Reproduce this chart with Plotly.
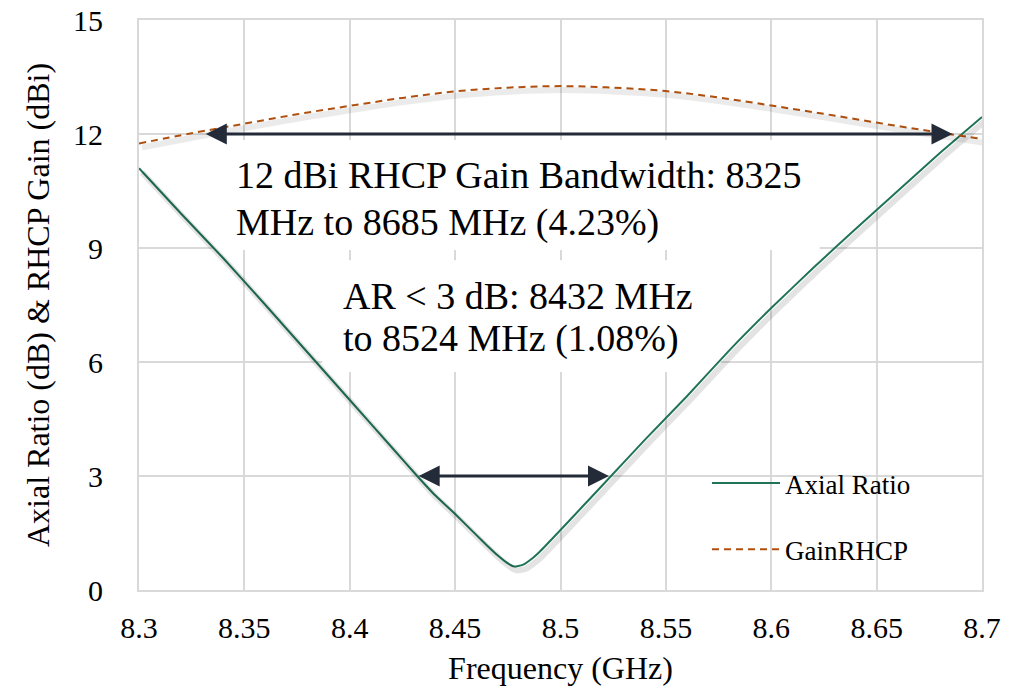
import plotly.graph_objects as go

# ---------------- data ----------------
freq_ar = [8.30, 8.32, 8.34, 8.36, 8.38, 8.40, 8.42, 8.432, 8.44, 8.45, 8.46, 8.465, 8.47,
           8.475, 8.478, 8.482, 8.487, 8.49, 8.50, 8.51, 8.524, 8.54, 8.56, 8.58, 8.60,
           8.62, 8.64, 8.66, 8.68, 8.70]
axial_ratio = [11.1, 9.9, 8.73, 7.5, 6.25, 5.0, 3.75, 3.0, 2.52, 2.0, 1.45, 1.18, 0.92,
               0.7, 0.62, 0.66, 0.85, 1.0, 1.58, 2.17, 3.0, 3.95, 5.1, 6.3, 7.42,
               8.48, 9.5, 10.5, 11.5, 12.45]

freq_gain = [8.300, 8.325, 8.350, 8.375, 8.400, 8.425, 8.450, 8.475, 8.500, 8.525,
             8.550, 8.575, 8.600, 8.625, 8.650, 8.675, 8.700]
gain_rhcp = [11.75, 12.02, 12.27, 12.52, 12.74, 12.95, 13.12, 13.22, 13.26, 13.22,
             13.13, 12.96, 12.75, 12.53, 12.30, 12.08, 11.87]

x_ticks = [8.3, 8.35, 8.4, 8.45, 8.5, 8.55, 8.6, 8.65, 8.7]
x_tick_labels = ["8.3", "8.35", "8.4", "8.45", "8.5", "8.55", "8.6", "8.65", "8.7"]
y_ticks = [0, 3, 6, 9, 12, 15]
y_tick_labels = ["0", "3", "6", "9", "12", "15"]

gain_band = [8.331, 8.686]   # 12 dBi gain bandwidth arrow ends (GHz)
gain_level = 12
ar_band = [8.432, 8.523]     # AR < 3 dB arrow ends (GHz)
ar_level = 3

gain_text_lines = ["12 dBi RHCP Gain Bandwidth: 8325", "MHz to 8685 MHz (4.23%)"]
ar_text_lines = ["AR < 3 dB: 8432 MHz", "to 8524 MHz (1.08%)"]

# ---------------- style ----------------
FONT = "Liberation Serif"
AR_COLOR = "#1F7357"
GAIN_COLOR = "#B0500F"
ARROW_COLOR = "#232B38"
GRID = "#D9D9D9"
XR = [8.3, 8.7]
YR = [0, 15]
W, H = 1012, 691
ML, MR, MT, MB = 139, 30, 20, 101
pw = W - ML - MR
ph = H - MT - MB
sx = (XR[1] - XR[0]) / pw
sy = (YR[1] - YR[0]) / ph
shadow_dx, shadow_dy = 3, 4

fig = go.Figure()

# shadows (same data drawn on offset hidden axes)
fig.add_trace(go.Scatter(x=freq_ar, y=axial_ratio, mode="lines", xaxis="x2", yaxis="y2",
                         line=dict(color="rgba(0,0,0,0.11)", width=6, shape="spline", smoothing=0.4),
                         showlegend=False, hoverinfo="skip"))
fig.add_trace(go.Scatter(x=freq_gain, y=gain_rhcp, mode="lines", xaxis="x2", yaxis="y2",
                         line=dict(color="rgba(0,0,0,0.08)", width=6, shape="spline"),
                         showlegend=False, hoverinfo="skip"))

fig.add_trace(go.Scatter(x=freq_ar, y=axial_ratio, mode="lines", name="Axial Ratio",
                         legendgroup="a",
                         line=dict(color=AR_COLOR, width=2, shape="spline", smoothing=0.4)))
fig.add_trace(go.Scatter(x=freq_gain, y=gain_rhcp, mode="lines", name="GainRHCP",
                         legendgroup="b",
                         line=dict(color=GAIN_COLOR, width=2, dash="7px,5px", shape="spline")))

# white boxes behind texts (hide gridlines only)
fig.add_shape(type="rect", xref="x", yref="y", x0=8.335, x1=8.623, y0=8.95, y1=11.84,
              fillcolor="white", line=dict(width=0), layer="between")
fig.add_shape(type="rect", xref="x", yref="y", x0=8.387, x1=8.576, y0=5.74, y1=8.68,
              fillcolor="white", line=dict(width=0), layer="between")
# legend backdrop
fig.add_shape(type="rect", xref="paper", yref="paper",
              x0=(690 - ML) / pw, x1=(930 - ML) / pw,
              y0=(H - MB - 579) / ph, y1=(H - MB - 453) / ph,
              fillcolor="white", line=dict(width=0), layer="between")

# arrows
for band, level in ((gain_band, gain_level), (ar_band, ar_level)):
    fig.add_annotation(x=band[1], y=level, ax=band[0], ay=level,
                       xref="x", yref="y", axref="x", ayref="y", text="", showarrow=True,
                       arrowside="end+start", arrowhead=2, startarrowhead=2,
                       arrowsize=1.4, startarrowsize=1.4, arrowwidth=3, arrowcolor=ARROW_COLOR)

# texts (one annotation per line to match the tight line spacing)
for line, ypos in zip(gain_text_lines, [10.92, 9.68]):
    fig.add_annotation(x=8.345, y=ypos, xref="x", yref="y", text=line, showarrow=False,
                       xanchor="left", yanchor="middle", align="left",
                       font=dict(family=FONT, size=38, color="black"))
for line, ypos in zip(ar_text_lines, [7.75, 6.62]):
    fig.add_annotation(x=8.396, y=ypos, xref="x", yref="y", text=line, showarrow=False,
                       xanchor="left", yanchor="middle", align="left",
                       font=dict(family=FONT, size=38, color="black"))

axis_common = dict(showgrid=True, gridcolor=GRID, gridwidth=2, zeroline=False,
                   showline=True, linecolor=GRID, linewidth=2, mirror=True, ticks="",
                   automargin=False)

fig.update_layout(
    width=W, height=H,
    margin=dict(l=ML, r=MR, t=MT, b=MB, autoexpand=False),
    paper_bgcolor="white", plot_bgcolor="white",
    font=dict(family=FONT, color="black"),
    xaxis=dict(range=XR, tickvals=x_ticks, ticktext=x_tick_labels,
               tickfont=dict(size=30), ticklabelstandoff=10,
               title=dict(text="Frequency (GHz)", font=dict(size=32), standoff=14),
               **axis_common),
    yaxis=dict(range=YR, tickvals=y_ticks, ticktext=y_tick_labels,
               tickfont=dict(size=30), ticklabelstandoff=28,
               title=dict(text="Axial Ratio (dB) &amp; RHCP Gain (dBi)", font=dict(size=32), standoff=14),
               **axis_common),
    xaxis2=dict(range=[XR[0] - shadow_dx * sx, XR[1] - shadow_dx * sx], overlaying="x",
                visible=False),
    yaxis2=dict(range=[YR[0] + shadow_dy * sy, YR[1] + shadow_dy * sy], overlaying="y",
                visible=False),
    legend=dict(x=(707 - ML) / pw, y=(H - MB - 459) / ph, xanchor="left", yanchor="top",
                bgcolor="rgba(255,255,255,0)", borderwidth=0,
                font=dict(family=FONT, size=27, color="black"),
                itemwidth=68, traceorder="grouped", tracegroupgap=28),
    showlegend=True,
)

fig.write_html("out.html")
